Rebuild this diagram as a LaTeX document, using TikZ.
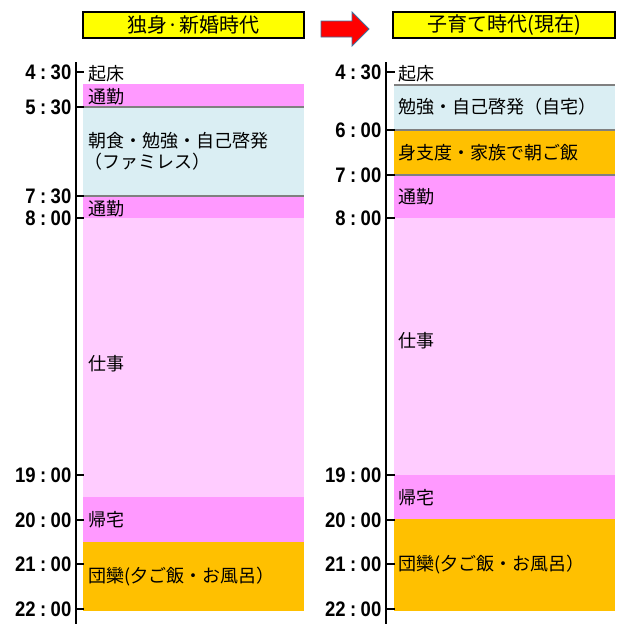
\documentclass[tikz,border=0pt]{standalone}
\usepackage{fontspec}
\setmainfont{Liberation Sans}
\newfontfamily\jp{Noto Sans CJK JP}
\newfontfamily\dig[FakeStretch=0.88]{Liberation Sans}
\definecolor{cpink}{HTML}{FF99FF}
\definecolor{clpink}{HTML}{FFCCFF}
\definecolor{cblue}{HTML}{DAEEF3}
\definecolor{corange}{HTML}{FFC000}
\definecolor{cyel}{HTML}{FFFF00}
\definecolor{cgray}{HTML}{808080}
\definecolor{arrowedge}{HTML}{41719C}
\newcommand{\tlab}[2]{\dig\bfseries\fontsize{21}{21}\selectfont #1\hbox to 15pt{\hss:\hss}#2}
\begin{document}
\begin{tikzpicture}[x=1pt,y=-1pt,
  titlebox/.style={draw=black, line width=2pt, fill=cyel, inner sep=0pt, font=\jp\fontsize{20}{20}\selectfont},
  lbl/.style={anchor=west, inner sep=0pt, font=\jp\fontsize{18}{22}\selectfont, align=left},
  tlbl/.style={anchor=east, inner sep=0pt},
  axisline/.style={line width=2.6pt, black},
  tickline/.style={line width=2pt, black},
  sepline/.style={line width=2pt, cgray}]
\useasboundingbox (0,0) rectangle (618,624);
\fill[white] (0,0) rectangle (618,624);

% titles
\node[titlebox, minimum width=221pt, minimum height=26pt] (t1) at (193.5,25) {独身·新婚時代};
\node[titlebox, minimum width=222pt, minimum height=26pt] (t2) at (504,25) {子育て時代(現在)};
\draw[fill=red, draw=arrowedge, line width=0.8pt] (321,21) -- (352,21) -- (352,12) -- (369,29) -- (352,46) -- (352,37) -- (321,37) -- cycle;

% left blocks
\fill[cpink]   (83,84)  rectangle (304,107);
\fill[cblue]   (83,107) rectangle (304,196);
\fill[cpink]   (83,196) rectangle (304,218);
\fill[clpink]  (83,218) rectangle (304,497);
\fill[cpink]   (83,497) rectangle (304,542);
\fill[corange] (83,542) rectangle (304,611);
\draw[sepline] (83,107) -- (304,107);
\draw[sepline] (83,196) -- (304,196);

% right blocks
\fill[cblue]   (394,85)  rectangle (615,130);
\fill[corange] (394,130) rectangle (615,175);
\fill[cpink]   (394,175) rectangle (615,218);
\fill[clpink]  (394,218) rectangle (615,475);
\fill[cpink]   (394,475) rectangle (615,519);
\fill[corange] (394,519) rectangle (615,611);
\draw[sepline] (394,85) -- (615,85);
\draw[sepline] (394,130) -- (615,130);
\draw[sepline] (394,175) -- (615,175);

% axes
\draw[axisline] (76,62) -- (76,624);
\draw[axisline] (386,62) -- (386,624);

\foreach \yy/\ha/\mb [count=\i] in {72/4/30, 107/5/30, 196/7/30, 218/8/00, 475/19/00, 520/20/00, 564/21/00, 609/22/00}{
  \draw[tickline] (76,\yy) -- (84,\yy);
  \node[tlbl] (LT\i) at (71.5,\yy) {\tlab{\ha}{\mb}};
}
\foreach \yy/\ha/\mb [count=\i] in {72/4/30, 130/6/00, 175/7/00, 218/8/00, 475/19/00, 520/20/00, 564/21/00, 609/22/00}{
  \draw[tickline] (386,\yy) -- (395,\yy);
  \node[tlbl] (RT\i) at (381.5,\yy) {\tlab{\ha}{\mb}};
}

% left labels
\node[lbl] (l1) at (88,74)  {起床};
\node[lbl] (l2) at (88,97)  {通勤};
\node[lbl] (l3) at (88,141) {朝食・勉強・自己啓発};
\node[lbl] (l4) at (84,162) {（ファミレス）};
\node[lbl] (l5) at (88,209) {通勤};
\node[lbl] (l6) at (88,364) {仕事};
\node[lbl] (l7) at (88,520) {帰宅};
\node[lbl] (l8) at (88,577) {団欒(夕ご飯・お風呂）};

% right labels
\node[lbl] (r1) at (398,74)  {起床};
\node[lbl] (r2) at (398,107) {勉強・自己啓発（自宅）};
\node[lbl] (r3) at (398,153) {身支度・家族で朝ご飯};
\node[lbl] (r4) at (398,197) {通勤};
\node[lbl] (r5) at (398,341) {仕事};
\node[lbl] (r6) at (398,498) {帰宅};
\node[lbl] (r7) at (398,565) {団欒(夕ご飯・お風呂）};
\end{tikzpicture}
\end{document}
